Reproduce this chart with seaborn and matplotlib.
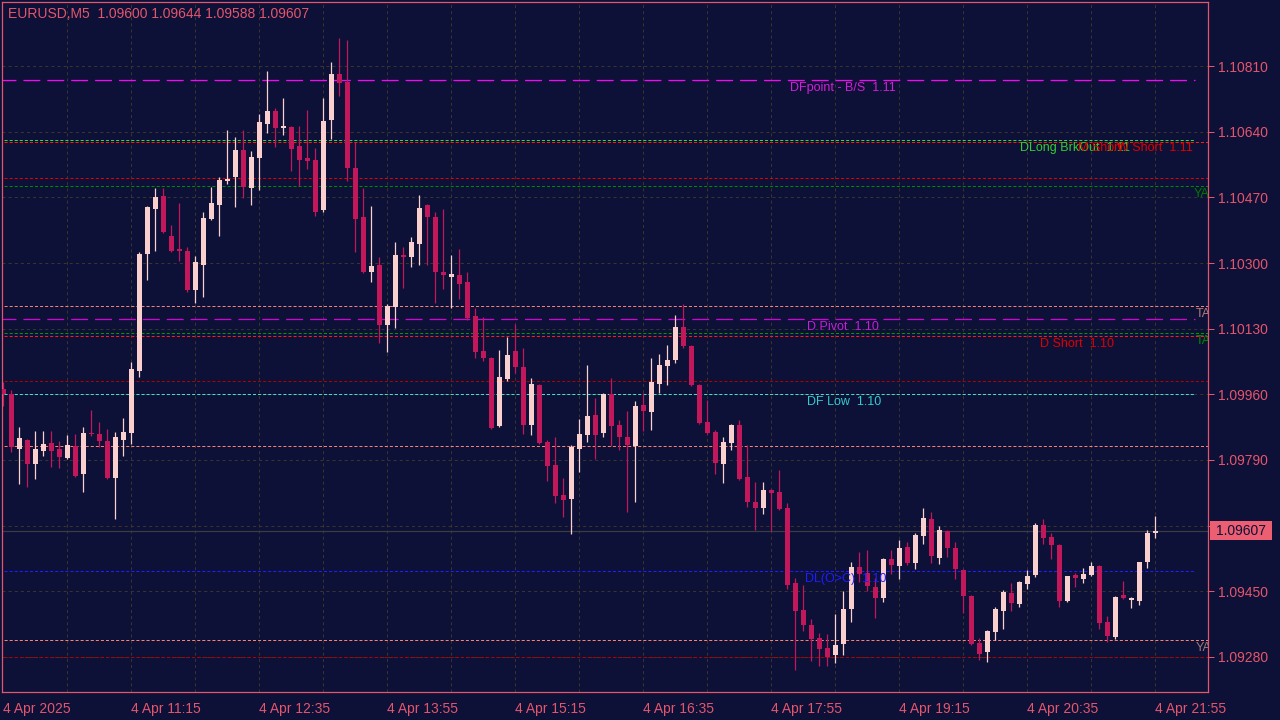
import numpy as np
import pandas as pd
import seaborn as sns
import matplotlib.pyplot as plt
from matplotlib.patches import Rectangle

BG = "#0d1037"
FG = "#e4566b"
BULL = "#f9d0cd"
BEAR = "#c2185b"
GRID = "#38352a"

sns.set_style("dark", {"axes.facecolor": BG, "figure.facecolor": BG,
                       "axes.edgecolor": FG, "xtick.color": FG, "ytick.color": FG,
                       "text.color": FG})
plt.rcParams["font.family"] = ["Liberation Sans", "DejaVu Sans"]
plt.rcParams["lines.scale_dashes"] = False

# ---- data (EURUSD M5, 4 Apr 2025 09:55 .. 21:55) ----
symbol = "EURUSD,M5"
opens = [1.09974, 1.09961, 1.09818, 1.09841, 1.09780, 1.09813, 1.09833, 1.09818, 1.09795, 1.09825,
         1.09754, 1.09859, 1.09857, 1.09838, 1.09743, 1.09841, 1.09859, 1.10020, 1.10324, 1.10440,
         1.10473, 1.10369, 1.10336, 1.10331, 1.10230, 1.10295, 1.10414, 1.10450, 1.10512, 1.10523,
         1.10593, 1.10494, 1.10572, 1.10660, 1.10693, 1.10649, 1.10652, 1.10602, 1.10572, 1.10567,
         1.10437, 1.10670, 1.10790, 1.10769, 1.10546, 1.10419, 1.10277, 1.10295, 1.10139, 1.10186,
         1.10321, 1.10316, 1.10349, 1.10450, 1.10419, 1.10277, 1.10264, 1.10269, 1.10251, 1.10162,
         1.10072, 1.10054, 1.09877, 1.10000, 1.10072, 1.10031, 1.09880, 1.09984, 1.09836, 1.09777,
         1.09699, 1.09689, 1.09818, 1.09854, 1.09906, 1.09859, 1.09961, 1.09880, 1.09849, 1.09826,
         1.09932, 1.09914, 1.09987, 1.10033, 1.10049, 1.10134, 1.10085, 1.09984, 1.09888, 1.09862,
         1.09780, 1.09833, 1.09880, 1.09746, 1.09681, 1.09665, 1.09712, 1.09707, 1.09665, 1.09471,
         1.09401, 1.09362, 1.09328, 1.09303, 1.09285, 1.09313, 1.09404, 1.09512, 1.09497, 1.09461,
         1.09432, 1.09533, 1.09515, 1.09564, 1.09523, 1.09593, 1.09637, 1.09536, 1.09606, 1.09562,
         1.09505, 1.09437, 1.09316, 1.09293, 1.09344, 1.09399, 1.09445, 1.09417, 1.09469, 1.09492,
         1.09622, 1.09590, 1.09569, 1.09424, 1.09492, 1.09481, 1.09492, 1.09515, 1.09370, 1.09331,
         1.09440, 1.09427, 1.09424, 1.09525, 1.09600]
highs = [1.09992, 1.09971, 1.09875, 1.09843, 1.09864, 1.09864, 1.09864, 1.09838, 1.09854, 1.09857,
         1.09875, 1.09919, 1.09888, 1.09870, 1.09862, 1.09898, 1.10044, 1.10329, 1.10447, 1.10494,
         1.10494, 1.10398, 1.10455, 1.10341, 1.10318, 1.10432, 1.10497, 1.10523, 1.10644, 1.10626,
         1.10644, 1.10590, 1.10686, 1.10797, 1.10701, 1.10727, 1.10654, 1.10654, 1.10696, 1.10597,
         1.10727, 1.10821, 1.10882, 1.10877, 1.10613, 1.10494, 1.10447, 1.10316, 1.10194, 1.10354,
         1.10341, 1.10367, 1.10476, 1.10453, 1.10432, 1.10440, 1.10321, 1.10336, 1.10277, 1.10183,
         1.10160, 1.10057, 1.10075, 1.10108, 1.10142, 1.10080, 1.10002, 1.09986, 1.09841, 1.09849,
         1.09743, 1.09828, 1.09896, 1.10036, 1.09950, 1.09963, 1.10002, 1.09893, 1.09917, 1.09942,
         1.09963, 1.10054, 1.10064, 1.10088, 1.10165, 1.10194, 1.10087, 1.09986, 1.09945, 1.09867,
         1.09849, 1.09882, 1.09893, 1.09828, 1.09733, 1.09733, 1.09714, 1.09764, 1.09678, 1.09484,
         1.09466, 1.09378, 1.09341, 1.09339, 1.09391, 1.09450, 1.09525, 1.09551, 1.09557, 1.09484,
         1.09536, 1.09557, 1.09582, 1.09577, 1.09600, 1.09665, 1.09655, 1.09619, 1.09608, 1.09577,
         1.09507, 1.09440, 1.09329, 1.09349, 1.09409, 1.09453, 1.09471, 1.09476, 1.09505, 1.09627,
         1.09637, 1.09600, 1.09572, 1.09489, 1.09497, 1.09510, 1.09525, 1.09517, 1.09386, 1.09437,
         1.09476, 1.09435, 1.09525, 1.09608, 1.09644]
lows = [1.09929, 1.09811, 1.09728, 1.09720, 1.09741, 1.09800, 1.09772, 1.09769, 1.09792, 1.09746,
        1.09707, 1.09851, 1.09823, 1.09741, 1.09637, 1.09800, 1.09831, 1.10005, 1.10256, 1.10331,
        1.10378, 1.10329, 1.10305, 1.10225, 1.10196, 1.10212, 1.10412, 1.10369, 1.10505, 1.10444,
        1.10468, 1.10450, 1.10489, 1.10636, 1.10600, 1.10631, 1.10538, 1.10499, 1.10544, 1.10421,
        1.10432, 1.10621, 1.10732, 1.10512, 1.10329, 1.10274, 1.10251, 1.10092, 1.10070, 1.10131,
        1.10235, 1.10290, 1.10295, 1.10295, 1.10196, 1.10233, 1.10183, 1.10207, 1.10152, 1.10054,
        1.10046, 1.09870, 1.09875, 1.09995, 1.10015, 1.09857, 1.09854, 1.09831, 1.09735, 1.09678,
        1.09642, 1.09597, 1.09759, 1.09836, 1.09792, 1.09849, 1.09826, 1.09816, 1.09655, 1.09681,
        1.09864, 1.09867, 1.09963, 1.09984, 1.10041, 1.10080, 1.09982, 1.09883, 1.09857, 1.09754,
        1.09730, 1.09816, 1.09738, 1.09668, 1.09608, 1.09650, 1.09606, 1.09660, 1.09456, 1.09246,
        1.09347, 1.09269, 1.09256, 1.09256, 1.09264, 1.09285, 1.09370, 1.09474, 1.09450, 1.09381,
        1.09422, 1.09494, 1.09481, 1.09518, 1.09507, 1.09572, 1.09523, 1.09520, 1.09538, 1.09481,
        1.09394, 1.09311, 1.09272, 1.09267, 1.09323, 1.09352, 1.09399, 1.09409, 1.09456, 1.09487,
        1.09572, 1.09533, 1.09409, 1.09422, 1.09461, 1.09471, 1.09490, 1.09352, 1.09318, 1.09326,
        1.09430, 1.09406, 1.09414, 1.09510, 1.09588]
closes = [1.09961, 1.09823, 1.09846, 1.09780, 1.09818, 1.09831, 1.09813, 1.09798, 1.09828, 1.09748,
          1.09859, 1.09857, 1.09838, 1.09743, 1.09849, 1.09862, 1.10026, 1.10324, 1.10444, 1.10471,
          1.10380, 1.10331, 1.10331, 1.10230, 1.10303, 1.10416, 1.10455, 1.10515, 1.10518, 1.10593,
          1.10497, 1.10575, 1.10665, 1.10693, 1.10649, 1.10654, 1.10595, 1.10567, 1.10564, 1.10432,
          1.10667, 1.10790, 1.10766, 1.10546, 1.10414, 1.10277, 1.10292, 1.10139, 1.10188, 1.10321,
          1.10316, 1.10354, 1.10442, 1.10419, 1.10277, 1.10269, 1.10272, 1.10246, 1.10157, 1.10070,
          1.10054, 1.09872, 1.10005, 1.10062, 1.10031, 1.09880, 1.09987, 1.09833, 1.09774, 1.09696,
          1.09686, 1.09823, 1.09857, 1.09903, 1.09854, 1.09961, 1.09877, 1.09849, 1.09828, 1.09930,
          1.09917, 1.09992, 1.10036, 1.10049, 1.10134, 1.10085, 1.09984, 1.09885, 1.09859, 1.09782,
          1.09836, 1.09880, 1.09741, 1.09681, 1.09665, 1.09712, 1.09704, 1.09663, 1.09466, 1.09399,
          1.09362, 1.09326, 1.09300, 1.09280, 1.09311, 1.09404, 1.09512, 1.09494, 1.09463, 1.09432,
          1.09533, 1.09518, 1.09562, 1.09523, 1.09595, 1.09639, 1.09541, 1.09608, 1.09562, 1.09507,
          1.09437, 1.09313, 1.09287, 1.09347, 1.09404, 1.09448, 1.09419, 1.09474, 1.09489, 1.09622,
          1.09588, 1.09569, 1.09424, 1.09489, 1.09484, 1.09494, 1.09515, 1.09367, 1.09334, 1.09435,
          1.09432, 1.09432, 1.09525, 1.09600, 1.09607]

time_labels = ["4 Apr 2025", "4 Apr 11:15", "4 Apr 12:35", "4 Apr 13:55", "4 Apr 15:15",
               "4 Apr 16:35", "4 Apr 17:55", "4 Apr 19:15", "4 Apr 20:35", "4 Apr 21:55"]
price_ticks = [1.09280, 1.09450, 1.09620, 1.09790, 1.09960, 1.10130, 1.10300, 1.10470, 1.10640, 1.10810]

# indicator levels
level_prices = [1.10774, 1.10614, 1.10618, 1.10520, 1.10499, 1.10188, 1.10155,
                1.10119, 1.10111, 1.09994, 1.09961, 1.09826, 1.09502, 1.09323, 1.09280]
level_colors = ["#ff00ff", "#ff1a1a", "#33dd33", "#e00000", "#008a00", "#fa8072", "#d800d8",
                "#009900", "#ff1a1a", "#b00000", "#40e0d0", "#fa8072", "#1e1eff", "#fa8072", "#b00000"]
level_long = [True, False, False, False, False, False, True,
              False, False, False, False, False, False, False, False]
level_full = [False, True, False, True, True, True, False,
              True, True, True, False, True, False, True, True]

# labels sitting under their lines
label_texts = ["DFpoint - B/S  1.11", "DLong BrkOut  1.11", "M Short", "W Short  1.11",
               "YA", "TA", "D Pivot  1.10", "TA", "D Short  1.10", "DF Low  1.10",
               "DL(O>C)  1.10", "YA"]
label_bars = [98.3, 127.1, 134.3, 139.2, 148.8, 149.1, 100.5, 149.1, 129.6, 100.5, 100.2, 149.1]
label_levels = [1.10774, 1.10618, 1.10618, 1.10618, 1.10499, 1.10188, 1.10155, 1.10119,
                1.10111, 1.09961, 1.09502, 1.09323]
label_colors = ["#d21fd8", "#33cc33", "#e00000", "#e00000", "#007a00", "#b07a7a", "#c21fd6",
                "#008a00", "#e00000", "#33cccc", "#1e1eff", "#9a7a7a"]

df = pd.DataFrame({"open": opens, "high": highs, "low": lows, "close": closes})
df["bar"] = np.arange(len(df))
df["bull"] = df["close"] >= df["open"]
df["color"] = np.where(df["bull"], BULL, BEAR)
df["body_lo"] = df[["open", "close"]].min(axis=1)
df["body_h"] = (df["open"] - df["close"]).abs().clip(lower=0.00003)

fig = plt.figure(figsize=(12.8, 7.2), dpi=100)
ax = fig.add_axes([2 / 1280, 28 / 720, 1206 / 1280, 690 / 720])
ax.set_facecolor(BG)

# grid
for b in range(8, 151, 8):
    ax.axvline(b, color=GRID, lw=0.72, ls=(0, (2.2, 2.2)), zorder=0)
for p in price_ticks:
    ax.axhline(p, color=GRID, lw=0.72, ls=(0, (2.2, 2.2)), zorder=0)

# indicator lines
for p, c, lg, full in zip(level_prices, level_colors, level_long, level_full):
    ls = (0, (12.2, 5.0)) if lg else (0, (2.2, 1.45))
    ax.hlines(p, -0.5, 150.6 if full else 149.0, color=c, lw=0.9 if lg else 0.72, ls=ls, zorder=1)

# current bid line
ax.axhline(closes[-1], color="#3c3c44", lw=0.9, zorder=1)

# candles
ax.vlines(df["bar"], df["low"], df["high"], colors=df["color"], lw=0.9, zorder=2)
ax.bar(df["bar"], df["body_h"], bottom=df["body_lo"], width=0.62, color=df["color"],
       edgecolor="none", zorder=3)

for t, b, lvl, c in zip(label_texts, label_bars, label_levels, label_colors):
    ax.annotate(t, (b, lvl), xytext=(0, -1.5), textcoords="offset points",
                ha="left", va="top", fontsize=9, color=c, zorder=4, annotation_clip=False,
                clip_on=True)

ax.set_xlim(-0.1625, 150.59)
ax.set_ylim(1.09189, 1.10976)

ax.set_xticks(df["bar"][::16])
ax.set_xticklabels(time_labels, ha="left", fontsize=10, color=FG)
ax.set_yticks(price_ticks)
# the level under the last-price tag is hidden, as in the terminal
ax.set_yticklabels(["" if abs(p - closes[-1]) < 0.0003 else f"{p:.5f}" for p in price_ticks],
                   fontsize=10, color=FG)
ax.yaxis.tick_right()
ax.tick_params(axis="x", direction="out", length=4, width=0.72, color=FG, pad=3)
ax.tick_params(axis="y", direction="out", length=4, width=0.72, color=FG, pad=3)
ax.grid(False)
for s in ax.spines.values():
    s.set_color(FG)
    s.set_linewidth(0.9)
    s.set_visible(True)

# last price tag
tr = ax.get_yaxis_transform()
px = 0.000025888
ax.add_patch(Rectangle((1.0017, closes[-1] - 9.5 * px), 62 / 1206, 19 * px, transform=tr,
                       facecolor="#ec5f73", edgecolor="none", clip_on=False, zorder=10))
ax.text(1.0017 + 31 / 1206, closes[-1], f"{closes[-1]:.5f}", transform=tr, ha="center",
        va="center", fontsize=10, color=BG, zorder=11, clip_on=False)

fig.text(8 / 1280, 1 - 14 / 720,
         f"{symbol}  {opens[-1]:.5f} {highs[-1]:.5f} {lows[-1]:.5f} {closes[-1]:.5f}",
         fontsize=10, color=FG, ha="left", va="center")

fig.savefig("out.png", dpi=100, facecolor=BG)
